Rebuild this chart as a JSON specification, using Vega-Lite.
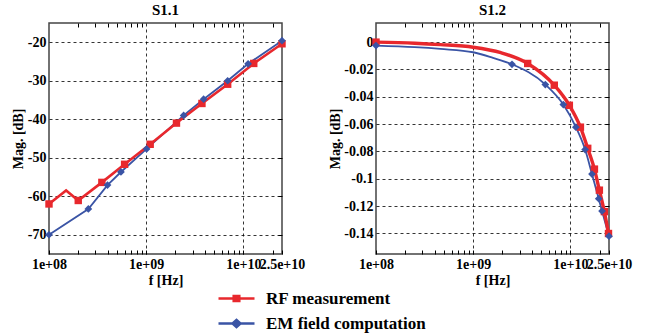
{
  "$schema": "https://vega.github.io/schema/vega-lite/v6.json",
  "padding": {"left": 10, "top": 1, "right": 4, "bottom": 1},
  "data": {"values": [
    {"p": "S1.1", "s": "EM field computation", "f": 1e8, "mag": -70.0, "m": true},
    {"p": "S1.1", "s": "EM field computation", "f": 2.54e8, "mag": -63.3, "m": true},
    {"p": "S1.1", "s": "EM field computation", "f": 4.0e8, "mag": -57.1, "m": true},
    {"p": "S1.1", "s": "EM field computation", "f": 5.5e8, "mag": -53.7, "m": true},
    {"p": "S1.1", "s": "EM field computation", "f": 1.01e9, "mag": -47.7, "m": true},
    {"p": "S1.1", "s": "EM field computation", "f": 2.43e9, "mag": -39.0, "m": true},
    {"p": "S1.1", "s": "EM field computation", "f": 3.9e9, "mag": -34.8, "m": true},
    {"p": "S1.1", "s": "EM field computation", "f": 6.9e9, "mag": -30.0, "m": true},
    {"p": "S1.1", "s": "EM field computation", "f": 1.12e10, "mag": -25.6, "m": true},
    {"p": "S1.1", "s": "EM field computation", "f": 2.5e10, "mag": -19.6, "m": true},
    {"p": "S1.1", "s": "RF measurement", "f": 1e8, "mag": -62.0, "m": true},
    {"p": "S1.1", "s": "RF measurement", "f": 1.5e8, "mag": -58.5, "m": false},
    {"p": "S1.1", "s": "RF measurement", "f": 2.0e8, "mag": -61.1, "m": true},
    {"p": "S1.1", "s": "RF measurement", "f": 3.5e8, "mag": -56.4, "m": true},
    {"p": "S1.1", "s": "RF measurement", "f": 6.0e8, "mag": -51.7, "m": true},
    {"p": "S1.1", "s": "RF measurement", "f": 1.1e9, "mag": -46.5, "m": true},
    {"p": "S1.1", "s": "RF measurement", "f": 2.05e9, "mag": -41.0, "m": true},
    {"p": "S1.1", "s": "RF measurement", "f": 3.75e9, "mag": -35.9, "m": true},
    {"p": "S1.1", "s": "RF measurement", "f": 6.9e9, "mag": -30.9, "m": true},
    {"p": "S1.1", "s": "RF measurement", "f": 1.28e10, "mag": -25.5, "m": true},
    {"p": "S1.1", "s": "RF measurement", "f": 2.5e10, "mag": -20.4, "m": true},
    {"p": "S1.2", "s": "EM field computation", "f": 1e8, "mag": -0.0025, "m": true},
    {"p": "S1.2", "s": "EM field computation", "f": 2.5e8, "mag": -0.0037, "m": false},
    {"p": "S1.2", "s": "EM field computation", "f": 4.6e8, "mag": -0.005, "m": false},
    {"p": "S1.2", "s": "EM field computation", "f": 1e9, "mag": -0.0074, "m": false},
    {"p": "S1.2", "s": "EM field computation", "f": 1.6e9, "mag": -0.0115, "m": false},
    {"p": "S1.2", "s": "EM field computation", "f": 2.51e9, "mag": -0.0162, "m": true},
    {"p": "S1.2", "s": "EM field computation", "f": 5.53e9, "mag": -0.031, "m": true},
    {"p": "S1.2", "s": "EM field computation", "f": 8.47e9, "mag": -0.0457, "m": true},
    {"p": "S1.2", "s": "EM field computation", "f": 1.14e10, "mag": -0.0622, "m": true},
    {"p": "S1.2", "s": "EM field computation", "f": 1.42e10, "mag": -0.0786, "m": true},
    {"p": "S1.2", "s": "EM field computation", "f": 1.67e10, "mag": -0.0965, "m": true},
    {"p": "S1.2", "s": "EM field computation", "f": 1.96e10, "mag": -0.1145, "m": true},
    {"p": "S1.2", "s": "EM field computation", "f": 2.12e10, "mag": -0.1236, "m": true},
    {"p": "S1.2", "s": "EM field computation", "f": 2.5e10, "mag": -0.142, "m": true},
    {"p": "S1.2", "s": "RF measurement", "f": 1e8, "mag": 0.0, "m": true},
    {"p": "S1.2", "s": "RF measurement", "f": 2.5e8, "mag": -0.0008, "m": false},
    {"p": "S1.2", "s": "RF measurement", "f": 4.6e8, "mag": -0.0018, "m": false},
    {"p": "S1.2", "s": "RF measurement", "f": 1e9, "mag": -0.0037, "m": false},
    {"p": "S1.2", "s": "RF measurement", "f": 1.93e9, "mag": -0.0077, "m": false},
    {"p": "S1.2", "s": "RF measurement", "f": 3.64e9, "mag": -0.0156, "m": true},
    {"p": "S1.2", "s": "RF measurement", "f": 6.84e9, "mag": -0.0315, "m": true},
    {"p": "S1.2", "s": "RF measurement", "f": 9.77e9, "mag": -0.0462, "m": true},
    {"p": "S1.2", "s": "RF measurement", "f": 1.27e10, "mag": -0.0622, "m": true},
    {"p": "S1.2", "s": "RF measurement", "f": 1.51e10, "mag": -0.0777, "m": true},
    {"p": "S1.2", "s": "RF measurement", "f": 1.77e10, "mag": -0.0929, "m": true},
    {"p": "S1.2", "s": "RF measurement", "f": 1.99e10, "mag": -0.1083, "m": true},
    {"p": "S1.2", "s": "RF measurement", "f": 2.24e10, "mag": -0.124, "m": true},
    {"p": "S1.2", "s": "RF measurement", "f": 2.47e10, "mag": -0.140, "m": true}
  ]},
  "spacing": 22,
  "hconcat": [
    {
      "width": 233, "height": 231,
      "title": "S1.1",
      "transform": [{"filter": "datum.p == 'S1.1'"}],
      "layer": [
        {
          "mark": {"type": "line", "interpolate": "linear"},
          "encoding": {
            "x": {"field": "f", "type": "quantitative", "title": "f [Hz]",
              "scale": {"type": "log", "domain": [1e8, 2.5e10], "nice": false},
              "axis": {"orient": "bottom", "values": [1e8,2e8,3e8,4e8,5e8,6e8,7e8,8e8,9e8,1e9,2e9,3e9,4e9,5e9,6e9,7e9,8e9,9e9,1e10,2e10,2.5e10],
                "labelExpr": "datum.value == 1e8 ? '1e+08' : datum.value == 1e9 ? '1e+09' : datum.value == 1e10 ? '1e+10' : datum.value == 2.5e10 ? '2.5e+10' : ''",
                "grid": true, "gridOpacity": {"condition": {"test": "datum.value == 1e9 || datum.value == 1e10", "value": 1}, "value": 0},
                "ticks": true, "tickSize": -4, "labelPadding": 7, "labelFlush": false, "labelOverlap": false, "titlePadding": 2}},
            "y": {"field": "mag", "type": "quantitative", "title": "Mag. [dB]",
              "scale": {"domain": [-75, -15], "nice": false, "zero": false},
              "axis": {"orient": "left", "values": [-70,-60,-50,-40,-30,-20], "format": "d", "grid": true, "ticks": false, "labelPadding": 3, "titlePadding": 2}},
            "color": {"field": "s", "type": "nominal",
              "scale": {"domain": ["RF measurement", "EM field computation"], "range": ["#e8282d", "#3a54a5"]},
              "legend": {
                "title": null,
                "encode": {"symbols": {"update": {
                  "shape": {"signal": "datum.value === 'RF measurement' ? 'M-1,0H3.5M0.9,-0.3H1.6V0.3H0.9Z' : 'M-1,0H3.5M1.25,-0.45L1.75,0L1.25,0.45L0.75,0Z'"},
                  "fill": {"scale": "color", "field": "value"},
                  "stroke": {"scale": "color", "field": "value"},
                  "strokeWidth": {"value": 2.5},
                  "opacity": {"value": 1},
                  "fillOpacity": {"value": 1}
                }}}
              }},
            "strokeWidth": {"field": "s", "type": "nominal", "scale": {"domain": ["RF measurement", "EM field computation"], "range": [2.6, 1.8]}, "legend": null}
          }
        },
        {
          "transform": [{"filter": "datum.m && datum.s == 'RF measurement'"}],
          "mark": {"type": "point", "filled": true, "opacity": 1, "size": 55, "shape": "square"},
          "encoding": {
            "x": {"field": "f", "type": "quantitative",
              "axis": {"orient": "top", "values": [2e8,3e8,4e8,5e8,6e8,7e8,8e8,9e8,2e9,3e9,4e9,5e9,6e9,7e9,8e9,9e9,2e10], "labels": false, "grid": false, "ticks": true, "tickSize": -4, "title": null}},
            "y": {"field": "mag", "type": "quantitative",
              "axis": {"orient": "right", "values": [-70,-60,-50,-40,-30,-20], "labels": false, "grid": false, "ticks": true, "tickSize": -4, "title": null}},
            "color": {"field": "s", "type": "nominal"}
          }
        },
        {
          "transform": [{"filter": "datum.m && datum.s == 'EM field computation'"}],
          "mark": {"type": "point", "filled": true, "opacity": 1, "size": 60, "shape": "diamond"},
          "encoding": {
            "x": {"field": "f", "type": "quantitative", "axis": null},
            "y": {"field": "mag", "type": "quantitative", "axis": null},
            "color": {"field": "s", "type": "nominal"}
          }
        }
      ],
      "resolve": {"axis": {"x": "independent", "y": "independent"}}
    },
    {
      "width": 233, "height": 231,
      "title": "S1.2",
      "transform": [{"filter": "datum.p == 'S1.2'"}],
      "layer": [
        {
          "mark": {"type": "line", "interpolate": "monotone"},
          "encoding": {
            "x": {"field": "f", "type": "quantitative", "title": "f [Hz]",
              "scale": {"type": "log", "domain": [1e8, 2.5e10], "nice": false},
              "axis": {"orient": "bottom", "values": [1e8,2e8,3e8,4e8,5e8,6e8,7e8,8e8,9e8,1e9,2e9,3e9,4e9,5e9,6e9,7e9,8e9,9e9,1e10,2e10,2.5e10],
                "labelExpr": "datum.value == 1e8 ? '1e+08' : datum.value == 1e9 ? '1e+09' : datum.value == 1e10 ? '1e+10' : datum.value == 2.5e10 ? '2.5e+10' : ''",
                "grid": true, "gridOpacity": {"condition": {"test": "datum.value == 1e9 || datum.value == 1e10", "value": 1}, "value": 0},
                "ticks": true, "tickSize": -4, "labelPadding": 7, "labelFlush": false, "labelOverlap": false, "titlePadding": 2}},
            "y": {"field": "mag", "type": "quantitative", "title": "Mag. [dB]",
              "scale": {"domain": [-0.155, 0.014], "nice": false, "zero": false},
              "axis": {"orient": "left", "values": [0,-0.02,-0.04,-0.06,-0.08,-0.1,-0.12,-0.14], "format": "~g", "grid": true, "ticks": false, "labelPadding": 3, "titlePadding": 1}},
            "color": {"field": "s", "type": "nominal"},
            "strokeWidth": {"field": "s", "type": "nominal", "scale": {"domain": ["RF measurement", "EM field computation"], "range": [3.4, 1.8]}, "legend": null}
          }
        },
        {
          "transform": [{"filter": "datum.m && datum.s == 'RF measurement'"}],
          "mark": {"type": "point", "filled": true, "opacity": 1, "size": 55, "shape": "square"},
          "encoding": {
            "x": {"field": "f", "type": "quantitative",
              "axis": {"orient": "top", "values": [2e8,3e8,4e8,5e8,6e8,7e8,8e8,9e8,2e9,3e9,4e9,5e9,6e9,7e9,8e9,9e9,2e10], "labels": false, "grid": false, "ticks": true, "tickSize": -4, "title": null}},
            "y": {"field": "mag", "type": "quantitative",
              "axis": {"orient": "right", "values": [0,-0.02,-0.04,-0.06,-0.08,-0.1,-0.12,-0.14], "labels": false, "grid": false, "ticks": true, "tickSize": -4, "title": null}},
            "color": {"field": "s", "type": "nominal"}
          }
        },
        {
          "transform": [{"filter": "datum.m && datum.s == 'EM field computation'"}],
          "mark": {"type": "point", "filled": true, "opacity": 1, "size": 60, "shape": "diamond"},
          "encoding": {
            "x": {"field": "f", "type": "quantitative", "axis": null},
            "y": {"field": "mag", "type": "quantitative", "axis": null},
            "color": {"field": "s", "type": "nominal"}
          }
        }
      ],
      "resolve": {"axis": {"x": "independent", "y": "independent"}}
    }
  ],
  "resolve": {"scale": {"strokeWidth": "independent"}},
  "config": {
    "font": "Liberation Serif",
    "background": "white",
    "view": {"stroke": "#444", "strokeWidth": 1.5},
    "locale": {"number": {"decimal": ".", "thousands": ",", "grouping": [3], "currency": ["$", ""], "minus": "-"}},
    "axis": {"labelFont": "Liberation Serif", "labelFontWeight": "bold", "labelFontSize": 14, "labelColor": "black",
      "titleFont": "Liberation Serif", "titleFontWeight": "bold", "titleFontSize": 14, "titleColor": "black",
      "domain": false, "gridColor": "black", "gridDash": [3, 3], "gridWidth": 0.8, "tickColor": "black", "tickWidth": 1},
    "title": {"font": "Liberation Serif", "fontWeight": "bold", "fontSize": 15, "color": "black", "offset": 5},
    "legend": {"orient": "bottom", "direction": "vertical", "labelFont": "Liberation Serif", "labelFontWeight": "bold",
      "labelFontSize": 17, "labelColor": "black", "symbolSize": 256, "labelOffset": 30, "rowPadding": 7, "offset": 1,
      "layout": {"bottom": {"anchor": "middle"}}}
  }
}
